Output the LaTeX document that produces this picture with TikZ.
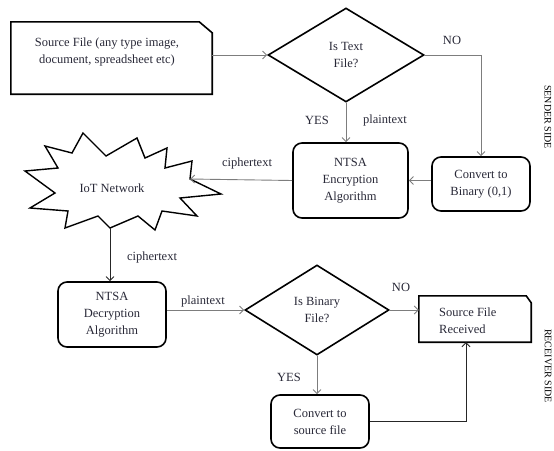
\documentclass[tikz,border=0pt]{standalone}
\usepackage{fontspec}
\setmainfont{Liberation Serif}
\usetikzlibrary{arrows.meta,shapes.geometric}
\definecolor{txt}{RGB}{40,40,55}
\definecolor{arr}{RGB}{125,125,125}
\begin{document}
\begin{tikzpicture}[x=1pt,y=-1pt,
  every node/.style={text=txt, font=\fontsize{12.5}{17}\selectfont},
  rbox/.style={draw=black, line width=1.6pt, rounded corners=9pt, align=center, inner sep=0},
  dia/.style={diamond, draw=black, line width=1.6pt, align=center, inner sep=0},
  plainbox/.style={inner sep=0},
  outline/.style={line width=1.6pt, line join=miter},
  conn/.style={draw=arr, line width=0.9pt, -{Straight Barb[length=4pt,width=8pt]}},
  darkconn/.style={conn, draw=black!85},
  side/.style={rotate=-90, text=black, font=\fontsize{10}{12}\selectfont}
]
\useasboundingbox (0,0) rectangle (554,450);

% source file box (clipped corner)
\node[plainbox, minimum width=201pt, minimum height=72pt] (src) at (111.5,58) {};
\draw[outline] (src.south west) -- (src.north west) -- ([xshift=-13pt]src.north east)
  -- ([yshift=-11pt]src.north east) -- (src.south east) -- cycle;
\node[align=center] (srctxt) at (107,52) {Source File (any type image,\\document, spreadsheet etc)};

% decision 1
\node[dia, minimum width=156pt, minimum height=94pt] (d1) at (346,55) {Is Text\\File?};

% encryption
\node[rbox, minimum width=115pt, minimum height=75pt] (enc) at (350.5,180.5) {NTSA\\Encryption\\Algorithm};

% convert to binary
\node[rbox, minimum width=98pt, minimum height=54pt] (conv) at (481,184) {Convert to\\Binary (0,1)};

% IoT network starburst
\draw[line width=1.4pt, line join=miter]
  (83,133) -- (106,156) -- (137,138) -- (145,158) -- (167,148) -- (165,168)
  -- (192,161) -- (190,179) -- (221,194) -- (180,198) -- (197,216) -- (162,211)
  -- (155,230) -- (138,216) -- (110,228) -- (98,216) -- (65,228) -- (68,211)
  -- (30,208) -- (55,193) -- (25,171) -- (58,168) -- (45,146) -- (72,153) -- cycle;
\node (iot) at (112,188) {IoT Network};
\coordinate (bb) at (110,228);
\coordinate (bv) at (190,179);

% decryption
\node[rbox, minimum width=108pt, minimum height=65pt] (dec) at (112,314.5) {NTSA\\Decryption\\Algorithm};

% decision 2
\node[dia, minimum width=144pt, minimum height=90pt] (d2) at (317,310) {Is Binary\\File?};

% source file received (clipped corner)
\node[plainbox, minimum width=112pt, minimum height=46pt] (rec) at (475,319) {};
\draw[outline] (rec.south west) -- (rec.north west) -- ([xshift=-5pt]rec.north east)
  -- ([yshift=-7pt]rec.north east) -- (rec.south east) -- cycle;
\node[align=left, anchor=west, inner sep=0] (rectxt) at (439,320.5) {Source File\\Received};

% convert to source
\node[rbox, minimum width=98pt, minimum height=53pt] (cs) at (320,421.5) {Convert to\\source file};

% labels
\node (no1) at (452,40) {NO};
\node (yes1) at (317,120) {YES};
\node (pt1) at (385,120) {plaintext};
\node (ct1) at (247,163) {ciphertext};
\node (ct2) at (152,257) {ciphertext};
\node (pt2) at (203,301) {plaintext};
\node (no2) at (401,287) {NO};
\node (yes2) at (289,377) {YES};
\node[side] (ss) at (548,117) {SENDER SIDE};
\node[side] (rs) at (548,366) {RECEIVER SIDE};

% connectors
\draw[conn] (src.east |- d1.west) -- (d1.west);
\draw[conn] (d1.east) -| (conv.north);
\draw[conn] (d1.south) -- (d1.south |- enc.north);
\draw[conn] (conv.west |- enc.east) -- (enc.east);
\draw[conn] (enc.west) -- (bv);
\draw[darkconn] (bb) -- (bb |- dec.north);
\draw[conn] (dec.east |- d2.west) -- (d2.west);
\draw[conn] (d2.east) -- (d2.east -| rec.west);
\draw[conn] (d2.south) -- (d2.south |- cs.north);
\draw[darkconn] (cs.east) -| ([xshift=-9pt]rec.south);
\end{tikzpicture}
\end{document}
